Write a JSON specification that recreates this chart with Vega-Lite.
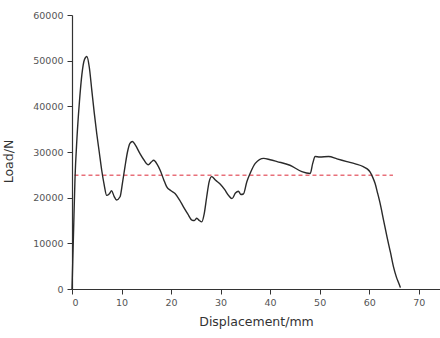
{
  "$schema": "https://vega.github.io/schema/vega-lite/v6.json",
  "width": 368,
  "height": 274,
  "autosize": {"type": "none"},
  "padding": {"left": 72, "top": 15, "right": 0, "bottom": 49},
  "background": "white",
  "config": {
    "view": {"stroke": null},
    "font": "DejaVu Sans",
    "axis": {"labelFont": "DejaVu Sans", "titleFont": "DejaVu Sans", "labelColor": "#555", "titleColor": "#333", "domainColor": "#333", "tickColor": "#333", "grid": false, "labelFontSize": 9.5, "titleFontSize": 12.5, "titleFontWeight": "normal"}
  },
  "datasets": {
    "curve": [
      {"x": 0, "y": 0},
      {"x": 0.3, "y": 12000},
      {"x": 0.6, "y": 24000},
      {"x": 1.0, "y": 33000},
      {"x": 1.5, "y": 41000},
      {"x": 2.0, "y": 47000},
      {"x": 2.5, "y": 50200},
      {"x": 3.0, "y": 50900},
      {"x": 3.5, "y": 48500},
      {"x": 4.0, "y": 43500},
      {"x": 4.5, "y": 38500},
      {"x": 5.0, "y": 34000},
      {"x": 5.5, "y": 30000},
      {"x": 6.0, "y": 26000},
      {"x": 6.5, "y": 22800},
      {"x": 7.0, "y": 20500},
      {"x": 7.5, "y": 20800},
      {"x": 8.0, "y": 21500},
      {"x": 8.5, "y": 20300},
      {"x": 9.0, "y": 19500},
      {"x": 9.7, "y": 20200},
      {"x": 10.2, "y": 23300},
      {"x": 10.7, "y": 26800},
      {"x": 11.2, "y": 30000},
      {"x": 11.7, "y": 31900},
      {"x": 12.2, "y": 32300},
      {"x": 12.8, "y": 31500},
      {"x": 13.7, "y": 29700},
      {"x": 14.5, "y": 28300},
      {"x": 15.4, "y": 27200},
      {"x": 16.0, "y": 27800},
      {"x": 16.5, "y": 28200},
      {"x": 17.2, "y": 27300},
      {"x": 17.8, "y": 26000},
      {"x": 18.5, "y": 24000},
      {"x": 19.1, "y": 22400},
      {"x": 20.0, "y": 21500},
      {"x": 20.8, "y": 20900},
      {"x": 21.7, "y": 19500},
      {"x": 22.5, "y": 18000},
      {"x": 23.4, "y": 16400},
      {"x": 24.2, "y": 15100},
      {"x": 24.7, "y": 15000},
      {"x": 25.2, "y": 15500},
      {"x": 25.7, "y": 15000},
      {"x": 26.2, "y": 14700},
      {"x": 26.7, "y": 16500},
      {"x": 27.2, "y": 20200},
      {"x": 27.7, "y": 23500},
      {"x": 28.2, "y": 24600},
      {"x": 29.0, "y": 23800},
      {"x": 29.9, "y": 23000},
      {"x": 30.8, "y": 21800},
      {"x": 31.6, "y": 20500},
      {"x": 32.3, "y": 19800},
      {"x": 33.0, "y": 21000},
      {"x": 33.6, "y": 21400},
      {"x": 34.1, "y": 20700},
      {"x": 34.6, "y": 20800},
      {"x": 35.3, "y": 23500},
      {"x": 36.0, "y": 25400},
      {"x": 37.0, "y": 27500},
      {"x": 38.7, "y": 28600},
      {"x": 40.0, "y": 28300},
      {"x": 41.4, "y": 27900},
      {"x": 44.0, "y": 27100},
      {"x": 46.4, "y": 25700},
      {"x": 48.1, "y": 25300},
      {"x": 48.6, "y": 27500},
      {"x": 49.1, "y": 29000},
      {"x": 50.0, "y": 28900},
      {"x": 51.8, "y": 29000},
      {"x": 53.5, "y": 28500},
      {"x": 55.5, "y": 27900},
      {"x": 57.2, "y": 27400},
      {"x": 58.8, "y": 26800},
      {"x": 59.6, "y": 26300},
      {"x": 60.2, "y": 25600},
      {"x": 60.7, "y": 24500},
      {"x": 61.2, "y": 23100},
      {"x": 61.7, "y": 21000},
      {"x": 62.2, "y": 18800},
      {"x": 62.9, "y": 15100},
      {"x": 63.6, "y": 11400},
      {"x": 64.3, "y": 8000},
      {"x": 64.9, "y": 4900},
      {"x": 65.5, "y": 2600},
      {"x": 66.0, "y": 1200},
      {"x": 66.3, "y": 300}
    ],
    "ref": [
      {"x": 0.5, "y": 24900},
      {"x": 64.8, "y": 24900}
    ]
  },
  "layer": [
    {
      "data": {"name": "ref"},
      "mark": {"type": "line", "color": "#e8707a", "strokeWidth": 1.5, "strokeDash": [4, 3]},
      "encoding": {
        "x": {"field": "x", "type": "quantitative"},
        "y": {"field": "y", "type": "quantitative"}
      }
    },
    {
      "data": {"name": "curve"},
      "mark": {"type": "line", "color": "#2a2a2a", "strokeWidth": 1.4, "interpolate": "monotone"},
      "encoding": {
        "x": {
          "field": "x", "type": "quantitative",
          "scale": {"domain": [0, 74.3], "nice": false, "zero": false},
          "axis": {
            "title": "Displacement/mm",
            "values": [0, 5, 10, 15, 20, 25, 30, 35, 40, 45, 50, 55, 60, 65, 70],
            "labelExpr": "datum.value % 10 === 0 ? datum.label : ''",
            "tickSize": {"condition": {"test": "datum.value % 10 === 0", "value": 5}, "value": 3},
            "labelPadding": 3,
            "titlePadding": 9,
            "domainWidth": 1.2
          }
        },
        "y": {
          "field": "y", "type": "quantitative",
          "scale": {"domain": [0, 60000], "nice": false},
          "axis": {
            "title": "Load/N",
            "titleX": -57,
            "titleY": 146,
            "values": [0, 5000, 10000, 15000, 20000, 25000, 30000, 35000, 40000, 45000, 50000, 55000, 60000],
            "labelExpr": "datum.value % 10000 === 0 ? format(datum.value, 'd') : ''",
            "tickSize": {"condition": {"test": "datum.value % 10000 === 0", "value": 5}, "value": 3},
            "labelPadding": 4,
            "domainWidth": 1.2
          }
        }
      }
    }
  ]
}
